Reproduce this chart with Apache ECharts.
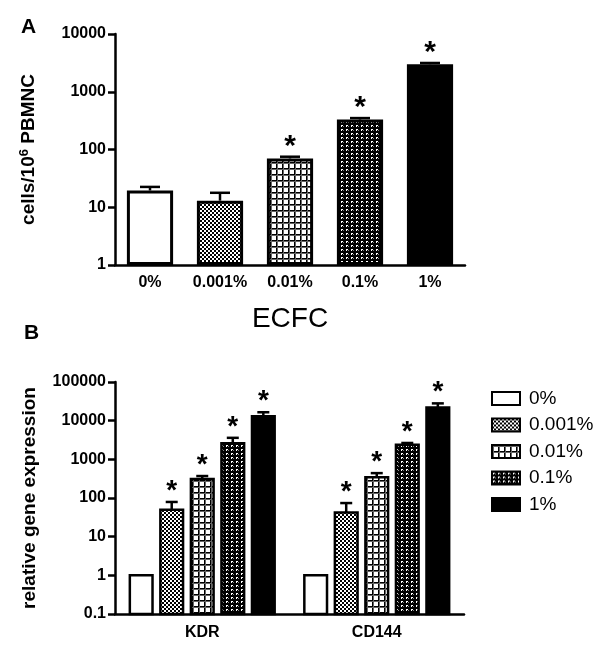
<!DOCTYPE html>
<html><head><meta charset="utf-8">
<script src="https://cdn.jsdelivr.net/npm/echarts@6/dist/echarts.min.js"></script>
<style>html,body{margin:0;padding:0;background:#fff}#c{width:600px;height:658px}</style>
</head><body><div id="c"></div>
<script>
// ---- Data ----
const concentrations = ['0%', '0.001%', '0.01%', '0.1%', '1%'];
// Panel A: ECFC colonies
const ecfcMean = [19.5, 13, 70, 330, 3000];
const ecfcErrTop = [22.5, 17.8, 75, 350, 3150];
const ecfcSig = [false, false, true, true, true];
const yTicksA = [1, 10, 100, 1000, 10000];
// Panel B: relative gene expression
const genes = ['KDR', 'CD144'];
const kdrMean = [1, 50, 310, 2600, 13000];
const kdrErrTop = [1, 79, 370, 3600, 16500];
const cd144Mean = [1, 42, 345, 2400, 22000];
const cd144ErrTop = [1, 74, 440, 2650, 28000];
const geneSig = [false, true, true, true, true];
const yTicksB = [0.1, 1, 10, 100, 1000, 10000, 100000];

// ---- Patterns ----
function makeTile(w, h, draw) {
  const c = document.createElement('canvas'); c.width = w; c.height = h;
  const g = c.getContext('2d'); draw(g); return c;
}
const patChecker = makeTile(4, 4, g => {
  g.fillStyle = '#fff'; g.fillRect(0, 0, 4, 4);
  g.fillStyle = '#000'; g.fillRect(0, 0, 2, 2); g.fillRect(2, 2, 2, 2);
});
const patGrid = makeTile(6, 6, g => {
  g.fillStyle = '#fff'; g.fillRect(0, 0, 6, 6);
  g.fillStyle = '#000'; g.fillRect(0, 0, 6, 1); g.fillRect(0, 0, 1, 6);
  g.fillStyle = '#666'; g.fillRect(0, 1, 6, 1); g.fillRect(1, 0, 1, 6);
});
const patBrick = makeTile(5, 4, g => {
  g.fillStyle = '#000'; g.fillRect(0, 0, 5, 4);
  g.fillStyle = '#fff'; g.fillRect(1, 1, 2, 1); g.fillRect(1, 2, 1, 1);
  g.fillStyle = '#888'; g.fillRect(3, 2, 1, 1);
});
const fills = [
  '#ffffff',
  { image: patChecker, repeat: 'repeat' },
  { image: patGrid, repeat: 'repeat' },
  { image: patBrick, repeat: 'repeat' },
  '#000000'
];

const FF = 'Liberation Sans, Arial, sans-serif';
const fmt = v => String(+(+v).toPrecision(6));
const tickFont = { color: '#000', fontWeight: 'bold', fontSize: 16, fontFamily: FF };

// error bars + stars for panel A
function renderA(params, api) {
  const idx = api.value(0), m = api.value(1), e = api.value(2), sig = api.value(3);
  const pm = api.coord([idx, m]); const pe = api.coord([idx, e]);
  const cap = 10;
  const ch = [
    { type: 'line', shape: { x1: pm[0], y1: pm[1], x2: pe[0], y2: pe[1] }, style: { stroke: '#000', lineWidth: 2.5 } },
    { type: 'line', shape: { x1: pe[0] - cap, y1: pe[1], x2: pe[0] + cap, y2: pe[1] }, style: { stroke: '#000', lineWidth: 2.5 } }
  ];
  if (sig) ch.push({ type: 'text', style: { text: '*', x: pe[0], y: pe[1] - 10, align: 'center', verticalAlign: 'middle', fontSize: 30, fontWeight: 'bold', fontFamily: FF, fill: '#000' } });
  return { type: 'group', children: ch };
}

// bars + error bars + stars for panel B
function makeRenderB(k) {
  return function (params, api) {
    const cat = api.value(0), m = api.value(1), e = api.value(2);
    const p0 = api.coord([0, 1]), p1 = api.coord([1, 1]);
    const bw = p1[0] - p0[0];
    const pm = api.coord([cat, m]);
    const x = pm[0] + (k - 2) * bw * 0.175;
    const barW = bw * 0.13;
    const base = api.coord([cat, yTicksB[0]])[1];
    const ye = api.coord([cat, e])[1];
    const st = api.style();
    st.lineWidth = 2.5; st.stroke = '#000';
    const ch = [];
    if (e > m) {
      ch.push({ type: 'line', shape: { x1: x, y1: pm[1], x2: x, y2: ye }, style: { stroke: '#000', lineWidth: 2.5 } });
      ch.push({ type: 'line', shape: { x1: x - 6, y1: ye, x2: x + 6, y2: ye }, style: { stroke: '#000', lineWidth: 2.5 } });
    }
    ch.push({ type: 'rect', shape: { x: x - barW / 2, y: pm[1], width: barW, height: base - pm[1] }, style: st, z2: 5 });
    if (geneSig[k]) ch.push({ type: 'text', style: { text: '*', x: x, y: ye - 11, align: 'center', verticalAlign: 'middle', fontSize: 28, fontWeight: 'bold', fontFamily: FF, fill: '#000' }, z2: 6 });
    return { type: 'group', children: ch };
  };
}

const seriesB = concentrations.map((name, k) => ({
  type: 'custom', name: name, xAxisIndex: 1, yAxisIndex: 1,
  itemStyle: { color: fills[k], borderColor: '#000', borderWidth: 2.5 },
  renderItem: makeRenderB(k),
  encode: { x: 0, y: 1 },
  data: [[0, kdrMean[k], kdrErrTop[k]], [1, cd144Mean[k], cd144ErrTop[k]]]
}));

const chart = echarts.init(document.getElementById('c'), null, { renderer: 'canvas' });
chart.setOption({
  animation: false,
  backgroundColor: '#fff',
  title: [
    { text: 'A', left: 16, top: 12, textStyle: { fontSize: 21, fontWeight: 'bold', color: '#000', fontFamily: FF } },
    { text: 'B', left: 19, top: 318, textStyle: { fontSize: 21, fontWeight: 'bold', color: '#000', fontFamily: FF } }
  ],
  grid: [
    { left: 115, top: 34, width: 350, height: 231 },
    { left: 115, top: 382, width: 349, height: 232 }
  ],
  legend: {
    data: concentrations, orient: 'vertical', left: 486, top: 384,
    itemWidth: 28, itemHeight: 13, itemGap: 7.5, icon: 'rect',
    textStyle: { fontSize: 19, color: '#000', fontFamily: FF, padding: [0, 0, 0, 4] }
  },
  xAxis: [
    { type: 'category', gridIndex: 0, data: concentrations,
      axisLine: { lineStyle: { color: '#000', width: 2.5 } }, axisTick: { show: false },
      axisLabel: Object.assign({ margin: 10, interval: 0 }, tickFont),
      name: 'ECFC', nameLocation: 'middle', nameGap: 40,
      nameTextStyle: { fontSize: 28, color: '#000', fontFamily: FF } },
    { type: 'category', gridIndex: 1, data: genes,
      axisLine: { lineStyle: { color: '#000', width: 2.5 } }, axisTick: { show: false },
      axisLabel: Object.assign({ margin: 11, interval: 0 }, tickFont) }
  ],
  yAxis: [
    { type: 'log', gridIndex: 0, logBase: 10, min: yTicksA[0], max: yTicksA[yTicksA.length - 1],
      axisLine: { show: true, lineStyle: { color: '#000', width: 2.5 } },
      axisTick: { show: true, length: 7, lineStyle: { color: '#000', width: 2.5 } },
      splitLine: { show: false },
      axisLabel: Object.assign({ margin: 9, formatter: fmt }, tickFont),
      name: '{a|cells/10}{s|6}{a| PBMNC}', nameLocation: 'middle', nameRotate: 90, nameGap: 76,
      nameTextStyle: { rich: {
        a: { fontSize: 19, fontWeight: 'bold', color: '#000', fontFamily: FF },
        s: { fontSize: 13, fontWeight: 'bold', color: '#000', fontFamily: FF, verticalAlign: 'top', padding: [0, 0, 8, 0] } } } },
    { type: 'log', gridIndex: 1, logBase: 10, min: yTicksB[0], max: yTicksB[yTicksB.length - 1],
      axisLine: { show: true, lineStyle: { color: '#000', width: 2.5 } },
      axisTick: { show: true, length: 7, lineStyle: { color: '#000', width: 2.5 } },
      splitLine: { show: false },
      axisLabel: Object.assign({ margin: 9, formatter: fmt }, tickFont),
      name: 'relative gene expression', nameLocation: 'middle', nameRotate: 90, nameGap: 76,
      nameTextStyle: { fontSize: 19, fontWeight: 'bold', color: '#000', fontFamily: FF } }
  ],
  series: [
    { type: 'bar', name: 'ECFC', xAxisIndex: 0, yAxisIndex: 0, barWidth: '66%',
      data: ecfcMean.map((v, i) => ({ value: v, itemStyle: { color: fills[i], borderColor: '#000', borderWidth: 3 } })) },
    { type: 'custom', name: 'errA', xAxisIndex: 0, yAxisIndex: 0, renderItem: renderA, z: 5,
      encode: { x: 0, y: 2 },
      data: ecfcMean.map((v, i) => [i, v, ecfcErrTop[i], ecfcSig[i] ? 1 : 0]) }
  ].concat(seriesB)
});
</script></body></html>
